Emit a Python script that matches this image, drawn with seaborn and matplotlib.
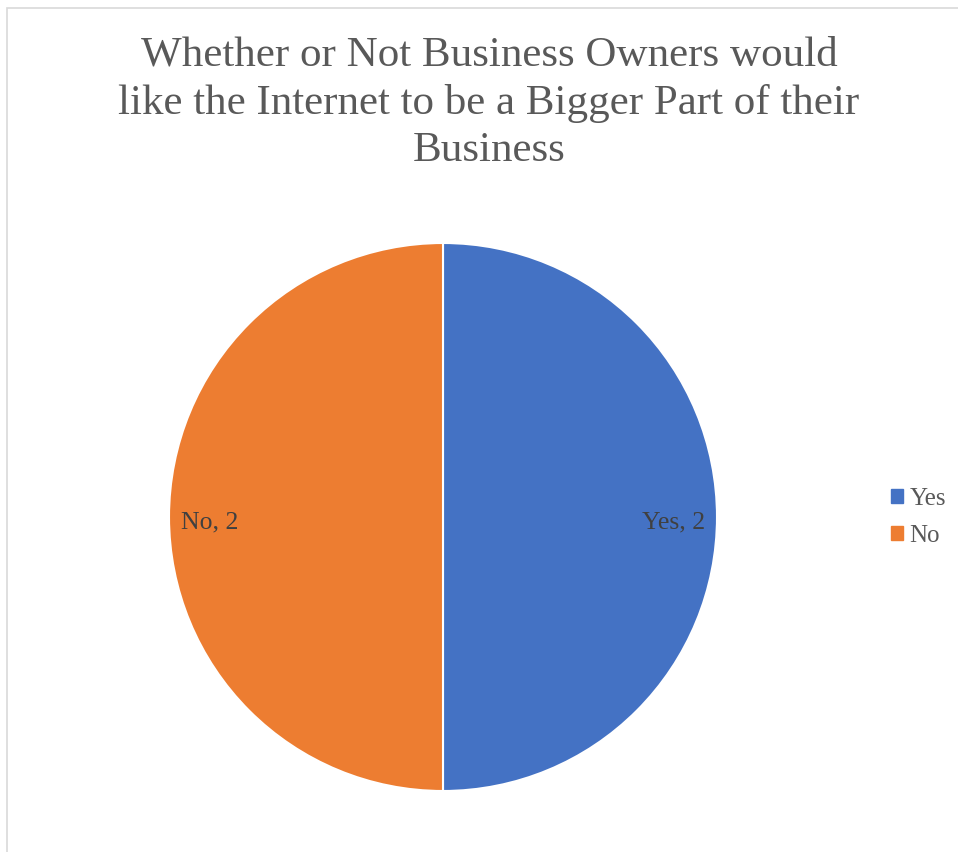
import numpy as np
import matplotlib
matplotlib.use("Agg")
import matplotlib.pyplot as plt
import matplotlib.patches as mpatches
import seaborn as sns

categories = ["Yes", "No"]
values = [2, 2]
title = "Whether or Not Business Owners would\nlike the Internet to be a Bigger Part of their\nBusiness"

sns.set_style("white")
plt.rcParams["font.family"] = ["Liberation Serif", "DejaVu Serif"]
colors = sns.color_palette(["#4472C4", "#ED7D31"])

W, H = 958, 852
fig = plt.figure(figsize=(W / 100, H / 100), dpi=100)
fig.patch.set_facecolor("white")

# outer chart border
fig.add_artist(mpatches.Rectangle((7 / W, -0.01), 1.1, (H - 8) / H + 0.01,
                                  transform=fig.transFigure, fill=False,
                                  edgecolor="#d9d9d9", linewidth=1.2))

cx, cy, r = 443, H - 517, 274
ax = fig.add_axes([(cx - r) / W, (cy - r) / H, 2 * r / W, 2 * r / H])
wedges, _ = ax.pie(values, colors=colors, startangle=90, counterclock=False,
                   radius=1.0, wedgeprops=dict(edgecolor="white", linewidth=1.5))
ax.set_xlim(-1, 1)
ax.set_ylim(-1, 1)
ax.set_aspect("equal")
ax.axis("off")

for w, cat, v in zip(wedges, categories, values):
    ang = np.deg2rad((w.theta1 + w.theta2) / 2)
    x, y = 0.958 * np.cos(ang), 0.958 * np.sin(ang) - 0.02
    ha = "right" if x > 0 else "left"
    ax.text(x, y, f"{cat}, {v}", ha=ha, va="center", fontsize=18.5, color="#404040")

fig.text(489 / W, 1 - 103 / H, title, ha="center", va="center", fontsize=31,
         color="#595959", linespacing=1.30)

handles = [mpatches.Patch(color=c, label=l) for c, l in zip(colors, categories)]
fig.legend(handles=handles, loc="center left", bbox_to_anchor=(891 / W, 1 - 517 / H),
           frameon=False, fontsize=18, handlelength=0.48, handleheight=0.48,
           handletextpad=0.25, labelspacing=0.6, labelcolor="#595959",
           borderpad=0, borderaxespad=0)

fig.savefig("out.png", dpi=100, facecolor="white")
